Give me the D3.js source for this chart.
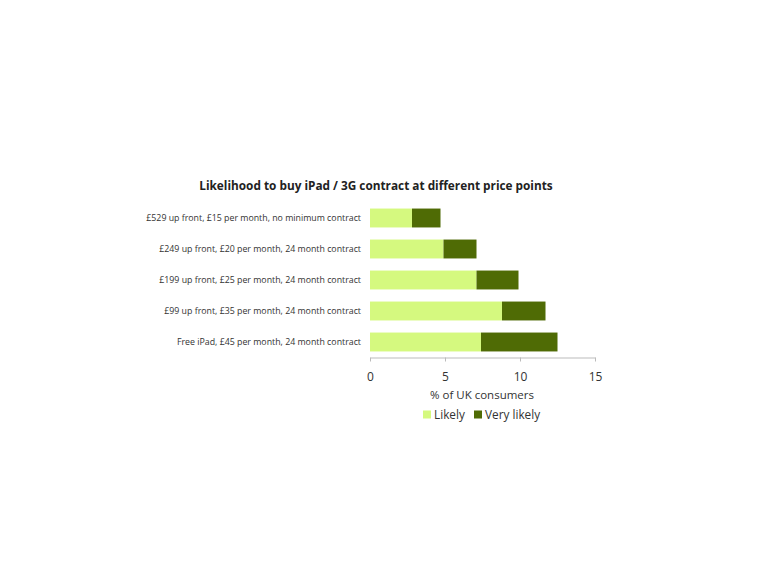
<!DOCTYPE html>
<html><head><meta charset="utf-8">
<script src="https://cdn.jsdelivr.net/npm/d3@7"></script>
<style>body{margin:0;background:#fff;} text{font-family:"Open Sans",sans-serif;}</style>
</head><body>
<svg id="c" width="768" height="576"></svg>
<script>
const categories = [
  "£529 up front, £15 per month, no minimum contract",
  "£249 up front, £20 per month, 24 month contract",
  "£199 up front, £25 per month, 24 month contract",
  "£99 up front, £35 per month, 24 month contract",
  "Free iPad, £45 per month, 24 month contract"
];
const likely = [2.8, 4.9, 7.1, 8.8, 7.4];
const veryLikely = [1.9, 2.2, 2.8, 2.9, 5.1];
const seriesNames = ["Likely", "Very likely"];
const ticks = [0, 5, 10, 15];
const colors = ["#d5f97f", "#4f6b05"];

const svg = d3.select("#c");
const x = d3.scaleLinear().domain([0, 15]).range([370, 595]);
const y = d3.scaleBand().domain(categories).range([202.5, 357.5]).paddingInner(0.39).paddingOuter(0.195);

svg.append("text").attr("x", 376).attr("y", 190).attr("text-anchor", "middle")
  .attr("font-size", 11.8).attr("font-weight", "bold").attr("fill", "#222")
  .text("Likelihood to buy iPad / 3G contract at different price points");

const rows = categories.map((c, i) => ({c, a: likely[i], b: veryLikely[i]}));
svg.append("g").selectAll("rect").data(rows).join("rect")
  .attr("x", d => x(0)).attr("y", d => y(d.c)).attr("height", y.bandwidth())
  .attr("width", d => x(d.a) - x(0)).attr("fill", colors[0]);
svg.append("g").selectAll("rect").data(rows).join("rect")
  .attr("x", d => x(d.a)).attr("y", d => y(d.c)).attr("height", y.bandwidth())
  .attr("width", d => x(d.a + d.b) - x(d.a)).attr("fill", colors[1]);

svg.append("g").selectAll("text").data(categories).join("text")
  .attr("x", 361).attr("y", d => y(d) + y.bandwidth() / 2).attr("dy", "0.35em")
  .attr("text-anchor", "end").attr("font-size", 8.8).attr("fill", "#333").text(d => d);

const ax = svg.append("g").attr("transform", "translate(0,357.5)")
  .call(d3.axisBottom(x).tickValues(ticks).tickSize(4).tickSizeOuter(0).tickPadding(11));
ax.select(".domain").attr("stroke", "#bbb");
ax.selectAll(".tick line").attr("stroke", "#bbb");
ax.selectAll(".tick text").attr("font-size", 12).attr("fill", "#333").attr("font-family", "Open Sans, sans-serif");

svg.append("text").attr("x", 482).attr("y", 399).attr("text-anchor", "middle")
  .attr("font-size", 11.5).attr("fill", "#333").text("% of UK consumers");

const leg = svg.append("g");
const lx = [423, 474];
seriesNames.forEach((n, i) => {
  leg.append("rect").attr("x", lx[i]).attr("y", 410.5).attr("width", 8).attr("height", 8).attr("fill", colors[i]);
  leg.append("text").attr("x", lx[i] + 11).attr("y", 419).attr("font-size", 11.8).attr("fill", "#333").text(n);
});
</script>
</body></html>
